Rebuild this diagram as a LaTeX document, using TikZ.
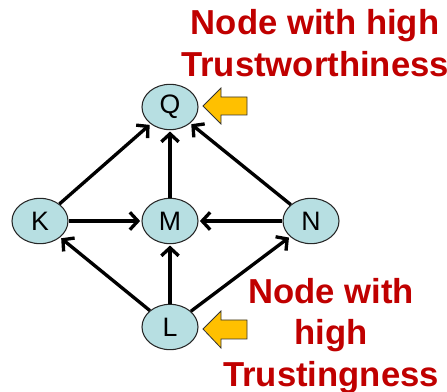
\documentclass[tikz,border=0pt]{standalone}
\usepackage{fontspec}
\setmainfont{Liberation Sans}
\usetikzlibrary{arrows.meta,shapes.geometric}
\definecolor{nodefill}{HTML}{B7DFE2}
\definecolor{labelred}{HTML}{C00000}
\definecolor{pointer}{HTML}{FFC000}
\begin{document}
\begin{tikzpicture}[x=0.75pt,y=-0.75pt,
  peer/.style={draw=black!85,fill=nodefill,ellipse,minimum width=42pt,minimum height=34pt,inner sep=0pt,font=\fontsize{20}{20}\selectfont,line width=0.8pt},
  link/.style={line width=2.5pt,-{Straight Barb[length=6pt,width=13pt]},shorten >=1pt},
  note/.style={text=labelred,align=center,font=\bfseries\fontsize{26}{31}\selectfont},
  pointer/.style={fill=pointer,draw=black!80,line width=0.6pt,line join=miter}]
\useasboundingbox (0,0) rectangle (447,392);
% the five peers
\node[peer] (Q) at (170,107) {Q};
\node[peer] (K) at (40,221) {K};
\node[peer] (M) at (170,221) {M};
\node[peer] (N) at (311,221) {N};
\node[peer] (L) at (170,327) {L};
% trust links
\draw[link] (K)--(Q);
\draw[link] (M)--(Q);
\draw[link] (N)--(Q);
\draw[link] (K)--(M);
\draw[link] (N)--(M);
\draw[link] (L)--(K);
\draw[link] (L)--(M);
\draw[link] (L)--(N);
% pointers
\filldraw[pointer] (203,106)--(221,88)--(221,97)--(247,97)--(247,115)--(221,115)--(221,124)--cycle;
\filldraw[pointer] (203,329)--(221,311)--(221,320)--(247,320)--(247,339)--(221,339)--(221,348)--cycle;
% labels
\node[note] (tw) at (315,43) {Node with high\\Trustworthiness};
\node[note] (tg) at (331,336) {Node with\\high\\Trustingness};
\end{tikzpicture}
\end{document}
